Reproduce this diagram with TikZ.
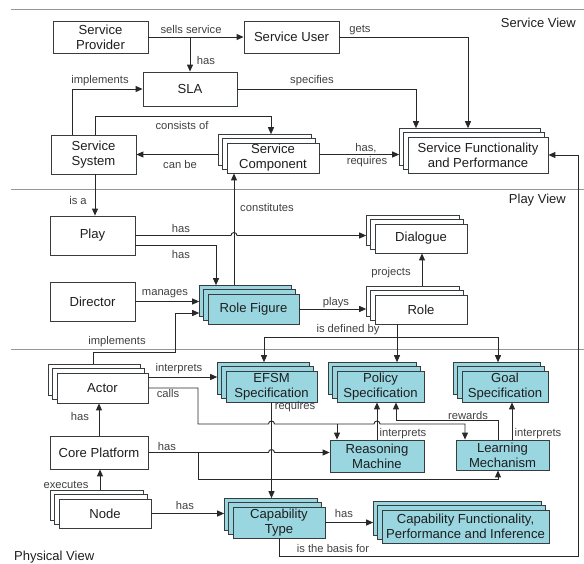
\documentclass[tikz,border=0pt]{standalone}
\usepackage{fontspec}
\setmainfont{Liberation Sans}
\usetikzlibrary{arrows.meta}
\pgfdeclarelayer{background}
\pgfsetlayers{background,main}
\definecolor{linec}{RGB}{40,40,40}
\definecolor{boxline}{RGB}{55,60,62}
\definecolor{sepc}{RGB}{150,150,150}
\definecolor{tealfill}{RGB}{153,214,224}
\definecolor{txtc}{RGB}{30,30,30}
\newcommand{\boxfont}{\fontsize{13.1}{14.8}\selectfont}
\newcommand{\lblfont}{\fontsize{11.2}{13}\selectfont}
\newcommand{\viewfont}{\fontsize{13}{15}\selectfont}
% two sheets stacked up and to the left behind a node
\newcommand{\sheets}[2]{%
  \begin{pgfonlayer}{background}
    \draw[sheet,fill=#2] ([shift={(-8.4pt,8.4pt)}]#1.south west) rectangle ([shift={(-8.4pt,8.4pt)}]#1.north east);
    \draw[sheet,fill=#2] ([shift={(-4.2pt,4.2pt)}]#1.south west) rectangle ([shift={(-4.2pt,4.2pt)}]#1.north east);
  \end{pgfonlayer}}
\begin{document}
\begin{tikzpicture}[x=1pt,y=-1pt,
  base/.style={draw=boxline,line width=0.8pt,align=center,font=\boxfont,text=txtc,inner sep=0pt},
  plain/.style={base,fill=white},
  tbox/.style={base,fill=tealfill},
  sheet/.style={draw=boxline,line width=0.7pt},
  sz/.style 2 args={minimum width=#1pt,minimum height=#2pt},
  conn/.style={draw=linec,line width=0.9pt},
  arr/.style={conn,-{Triangle[length=7pt,width=6pt]}},
  lbl/.style={font=\lblfont,text=txtc!85!white,inner sep=0pt},
  view/.style={font=\viewfont,text=txtc,inner sep=0pt},
  sep/.style={draw=sepc,line width=0.8pt}
]
\useasboundingbox (0,0) rectangle (584,563);

% view separators
\begin{pgfonlayer}{background}
\draw[sep] (11,9) -- (584,9);
\draw[sep] (11,189) -- (584,189);
\draw[sep] (11,349) -- (584,349);
\end{pgfonlayer}
\node[view,anchor=east] (v-service) at (576,23) {Service View};
\node[view,anchor=east] (v-play) at (566,200) {Play View};
\node[view,anchor=west] (v-phys) at (14,557) {Physical View};

% ---- Service view
\node[plain,sz={95}{32}] (sp) at (100.5,37) {Service\\Provider};
\node[plain,sz={95}{32}] (su) at (291.5,37) {Service User};
\node[plain,sz={94}{34}] (sla) at (190,89) {SLA};
\node[plain,sz={85}{39}] (ss) at (93.5,154.5) {Service\\System};
\node[plain,sz={92}{30}] (sc) at (273,158) {Service\\Component};
\sheets{sc}{white}
\node[plain,sz={140}{36}] (sfp) at (478,155) {Service Functionality\\and Performance};
\sheets{sfp}{white}

% ---- Play view
\node[plain,sz={85}{39}] (play) at (92.5,235.5) {Play};
\node[plain,sz={85}{39}] (director) at (92.5,301.5) {Director};
\node[tbox,sz={91}{30}] (rf) at (253.5,309) {Role Figure};
\sheets{rf}{tealfill}
\node[plain,sz={92}{29}] (dlg) at (421,238.5) {Dialogue};
\sheets{dlg}{white}
\node[plain,sz={92}{29}] (role) at (421,309.5) {Role};
\sheets{role}{white}

% ---- Physical view
\node[plain,sz={91}{30}] (actor) at (102.5,388) {Actor};
\sheets{actor}{white}
\node[plain,sz={98}{33}] (cp) at (99,452.5) {Core Platform};
\node[plain,sz={92}{29}] (nd) at (105,513.5) {Node};
\sheets{nd}{white}
\node[tbox,sz={91}{31}] (efsm) at (271.5,386.5) {EFSM\\Specification};
\sheets{efsm}{tealfill}
\node[tbox,sz={87}{31}] (pol) at (380.5,386.5) {Policy\\Specification};
\sheets{pol}{tealfill}
\node[tbox,sz={86}{31}] (goal) at (505,386.5) {Goal\\Specification};
\sheets{goal}{tealfill}
\node[tbox,sz={94}{32}] (rm) at (377,456) {Reasoning\\Machine};
\node[tbox,sz={93}{30}] (lm) at (502.5,455) {Learning\\Mechanism};
\node[tbox,sz={92}{31}] (ct) at (279,522.5) {Capability\\Type};
\sheets{ct}{tealfill}
\node[tbox,sz={167}{33}] (cfpi) at (465.5,526.5) {Capability Functionality,\\Performance and Inference};
\sheets{cfpi}{tealfill}

% outer edges of the rearmost sheet of each stack
\foreach \n in {sc,sfp,dlg,role,rf,actor,nd,efsm,pol,goal,ct,cfpi} {
  \coordinate (\n-bw) at ([xshift=-8.4pt]\n.west);
  \coordinate (\n-bn) at ([yshift=8.4pt]\n.north);
}

% ---- Service view connectors
\draw[arr] (sp.east) -- (su.west);
\node[lbl] (t-sells) at (191,29) {sells service};
\draw[arr] (sp.east -| sla.north) -- (sla.north);
\node[lbl] (t-has1) at (206,60) {has};
\coordinate (sfp-in1) at ([xshift=-10pt]sfp-bn);
\coordinate (sfp-in2) at ([xshift=-62pt]sfp-bn);
\draw[arr] (su.east) -| (sfp-in1);
\node[lbl] (t-gets) at (360,30) {gets};
\draw[arr] (sla.east) -| (sfp-in2);
\node[lbl] (t-spec) at (312,81) {specifies};
\coordinate (ss-up1) at ([xshift=-21.5pt]ss.north);
\coordinate (ss-up2) at ([xshift=1.5pt]ss.north);
\coordinate (sc-in) at ([xshift=-2pt]sc-bn);
\draw[arr] (ss-up1) |- (sla.west);
\node[lbl] (t-impl1) at (100,81) {implements};
\draw[arr] (ss-up2) -- ++(0,-18) -| (sc-in);
\node[lbl] (t-cons) at (182,125) {consists of};
\draw[arr] (sc-bw |- ss.east) -- (ss.east);
\node[lbl] (t-canbe) at (180,164) {can be};
\draw[arr] (sc.east |- ss.east) -- (sfp-bw |- ss.east);
\node[lbl] (t-hasc) at (366,148) {has,};
\node[lbl] (t-req1) at (367,162) {requires};
\draw[arr] (ct.south) |- (578,556) |- (sfp.east);
\node[lbl] (t-basis) at (333,548) {is the basis for};

% ---- Play view connectors
\coordinate (ss-dn) at ([xshift=1.5pt]ss.south);
\draw[arr] (ss-dn) -- (ss-dn |- play.north);
\node[lbl] (t-isa) at (78,200) {is a};
\coordinate (rf-up) at ([xshift=-19.5pt]rf-bn);
\draw[arr] (rf-up) -- (rf-up |- sc.south);
\node[lbl] (t-const) at (267,207) {constitutes};
\draw[arr] (play.east) -- (231,235.5) arc[start angle=180,end angle=0,radius=3pt] -- (play.east -| dlg-bw);
\node[lbl] (t-has2) at (181,228) {has};
\coordinate (play-lo) at ([yshift=-9.5pt]play.east);
\coordinate (rf-in) at ([xshift=-37.5pt]rf-bn);
\draw[arr] (play-lo) -| (rf-in);
\node[lbl] (t-has3) at (181,254) {has};
\draw[arr] (director.east) -- (director.east -| rf-bw);
\node[lbl] (t-man) at (165,294) {manages};
\coordinate (actor-up) at ([xshift=-9.5pt]actor-bn);
\coordinate (rf-lo) at ([yshift=-4pt]rf-bw);
\draw[arr] (actor-up) |- (175,352) |- (rf-lo);
\node[lbl] (t-impl2) at (117,342) {implements};
\draw[arr] (rf.east) -- (rf.east -| role-bw);
\node[lbl] (t-plays) at (336,303) {plays};
\coordinate (role-up) at ([xshift=1pt]role-bn);
\draw[arr] (role-up) -- (role-up |- dlg.south);
\node[lbl] (t-proj) at (391,273) {projects};
\coordinate (role-dn) at ([xshift=-24pt]role.south);
\coordinate (efsm-in) at ([xshift=-7.5pt]efsm-bn);
\coordinate (goal-in) at ([xshift=-7pt]goal-bn);
\draw[arr] (role-dn) -- (role-dn |- pol-bn);
\draw[arr] (role-dn |- 0,337) -| (efsm-in);
\draw[arr] (role-dn |- 0,337) -| (goal-in);
\node[lbl] (t-def) at (348,330) {is defined by};

% ---- Physical view connectors
\coordinate (actor-hi) at ([yshift=11pt]actor.east);
\draw[arr] (actor-hi) -- (actor-hi -| efsm-bw);
\node[lbl] (t-int1) at (179,369) {interprets};
\coordinate (lm-in1) at ([xshift=-37.5pt]lm.north);
\coordinate (rm-in) at ([xshift=-40pt]rm.north);
\draw[arr] (actor.east) -| (198,424) -- (268.5,424)
  arc[start angle=180,end angle=0,radius=3pt] -- (374,424)
  arc[start angle=180,end angle=0,radius=3pt] -| (lm-in1);
\draw[arr] (rm-in |- 0,424) -- (rm-in);
\node[lbl] (t-calls) at (168,393) {calls};
\draw[arr] (efsm.south) -- (efsm.south |- ct-bn);
\node[lbl] (t-req2) at (295,407) {requires};
\draw[arr] (rm.north) -- (rm.north |- pol.south);
\node[lbl] (t-int2) at (403,434) {interprets};
\coordinate (lm-up) at ([xshift=9.5pt]lm.north);
\draw[arr] (lm-up) -- (lm-up |- goal.south);
\node[lbl] (t-int3) at (538,434) {interprets};
\coordinate (lm-rw) at ([xshift=-4.5pt]lm.north);
\coordinate (pol-in) at ([xshift=15.5pt]pol.south);
\draw[arr] (lm-rw) |- (pol-in |- 0,420) -- (pol-in);
\node[lbl] (t-rew) at (468,415) {rewards};
\draw[arr] (cp.east) -- (268.5,452.5) arc[start angle=180,end angle=0,radius=3pt] -- (cp.east -| rm.west);
\coordinate (lm-in2) at ([xshift=-4.5pt]lm.south);
\draw[arr] (198,452.5) |- (lm-in2 |- 0,479) -- (lm-in2);
\node[lbl] (t-has4) at (167,446) {has};
\draw[arr] (cp.north) -- (cp.north |- actor.south);
\node[lbl] (t-has5) at (80,416) {has};
\coordinate (nd-up) at ([xshift=-5pt]nd-bn);
\draw[arr] (nd-up) -- (nd-up |- cp.south);
\node[lbl] (t-exec) at (66,485) {executes};
\draw[arr] (nd.east) -- (nd.east -| ct-bw);
\node[lbl] (t-has6) at (185,505) {has};
\draw[arr] (ct.east) -- (ct.east -| cfpi-bw);
\node[lbl] (t-has7) at (344,513) {has};
\end{tikzpicture}
\end{document}
